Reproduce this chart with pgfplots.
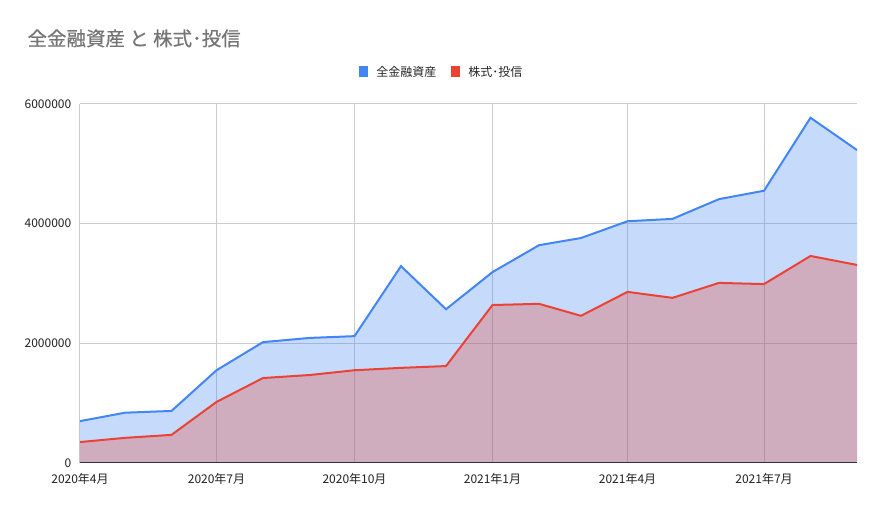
\documentclass[border=0pt]{standalone}
\usepackage{fontspec}
\setmainfont{Noto Sans CJK JP}
\newfontfamily\titlefont{Noto Sans CJK JP}[FakeBold=0.6]
\usepackage{pgfplots}
\usepackage{pgfplotstable}
\pgfplotsset{compat=1.18}
\definecolor{gblue}{HTML}{4285F4}
\definecolor{gred}{HTML}{EA4335}
\definecolor{gridc}{HTML}{CCCCCC}
\definecolor{titlec}{HTML}{757575}
\definecolor{axisc}{HTML}{333333}

% day = days since 2020-04-01
\pgfplotstableread{
day total stock
0   700000  350000
30  840000  420000
61  870000  470000
91  1550000 1020000
122 2020000 1420000
153 2090000 1470000
183 2120000 1550000
214 3290000 1590000
244 2570000 1620000
275 3190000 2640000
306 3640000 2660000
334 3760000 2460000
365 4040000 2860000
395 4080000 2760000
426 4410000 3010000
456 4550000 2990000
487 5770000 3460000
518 5230000 3310000
}\data

\begin{document}
\begin{tikzpicture}
\path[use as bounding box] (0,0) rectangle (662.25pt,381.75pt);
\node[anchor=west, inner sep=0pt, text=titlec, font=\titlefont\fontsize{14.6}{16}\selectfont] at (20.5pt,353pt) {全金融資産 と 株式･投信};
\begin{axis}[
  at={(60pt,34.5pt)}, anchor=south west,
  scale only axis, width=582.75pt, height=269.25pt,
  xmin=0, xmax=518, ymin=0, ymax=6000000,
  xtick={0,91,183,275,365,456},
  xticklabels={2020年4月,2020年7月,2020年10月,2021年1月,2021年4月,2021年7月},
  ytick={0,2000000,4000000,6000000},
  scaled y ticks=false,
  yticklabel style={/pgf/number format/fixed, /pgf/number format/1000 sep={}, xshift=-3pt},
  xticklabel style={yshift=-4.5pt},
  /pgf/number format/assume math mode=true,
  tick label style={font=\fontsize{9}{11}\selectfont, text=black!87},
  major tick length=0pt,
  grid=major, grid style={gridc, line width=0.75pt},
  axis line style={draw=none},
  legend style={at={(0.466,1.089)}, anchor=center, draw=none, fill=none,
    legend columns=2, font=\fontsize{9}{11}\selectfont, text=black!85,
    /tikz/every even column/.append style={column sep=9pt}},
]
\addplot[draw=none, fill=gblue, fill opacity=0.3, forget plot] table[x=day, y=total] {\data} \closedcycle;
\addplot[draw=none, fill=gred, fill opacity=0.3, forget plot] table[x=day, y=stock] {\data} \closedcycle;
\addplot[gblue, line width=1.5pt, forget plot] table[x=day, y=total] {\data};
\addplot[gred, line width=1.5pt, forget plot] table[x=day, y=stock] {\data};
\draw[axisc, line width=0.8pt] (rel axis cs:0,0) -- (rel axis cs:1,0);
\addlegendimage{legend image code/.code={\fill[gblue, draw=none] (0pt,-4pt) rectangle (7pt,4.2pt); \path[draw=none, fill=none] (0pt,0pt) -- (11pt,0pt);}}
\addlegendentry{全金融資産}
\addlegendimage{legend image code/.code={\fill[gred, draw=none] (0pt,-4pt) rectangle (7pt,4.2pt); \path[draw=none, fill=none] (0pt,0pt) -- (11pt,0pt);}}
\addlegendentry{株式･投信}
\end{axis}
\end{tikzpicture}
\end{document}
